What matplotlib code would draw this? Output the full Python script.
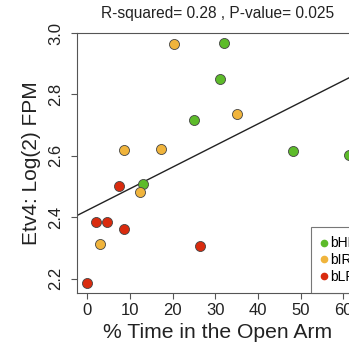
import numpy as np
import matplotlib
matplotlib.use("Agg")
import matplotlib.pyplot as plt

plt.rcParams['font.family'] = ['Liberation Sans', 'DejaVu Sans']

# % time in open arm vs Etv4 log2 FPM, by group
groups = ['bHR', 'bIR', 'bLR']
colors = ['#5DBB2A', '#F0B43C', '#D92B0E']
x_bHR = [31.9, 31.1, 25.0, 48.1, 61.2, 13.1]
y_bHR = [2.966, 2.850, 2.716, 2.614, 2.603, 2.507]
x_bIR = [20.4, 35.1, 8.5, 17.2, 12.3, 3.0]
y_bIR = [2.963, 2.736, 2.620, 2.622, 2.482, 2.311]
x_bLR = [7.3, 1.9, 4.7, 8.5, 26.5, 0.0]
y_bLR = [2.500, 2.384, 2.384, 2.361, 2.306, 2.184]

# fitted line
intercept = 2.4225
slope = 0.00704
title = "R-squared= 0.28 , P-value= 0.025"

xs = [x_bHR, x_bIR, x_bLR]
ys = [y_bHR, y_bIR, y_bLR]

fig = plt.figure(figsize=(3.49, 3.48), dpi=100)
ax = fig.add_axes([0.2206, 0.158, 0.808, 0.747])

for x, y, c, g in zip(xs, ys, colors, groups):
    ax.scatter(x, y, s=52, c=c, edgecolors='#444444', linewidths=0.6, zorder=3)
    ax.plot([], [], 'o', color=c, ms=4.5, label=g)

ax.axline((0, intercept), slope=slope, color='#222222', lw=1.0)

# R style 4% padding
allx = np.concatenate(xs)
ally = np.concatenate(ys)
dx = (allx.max() - allx.min()) * 0.04
dy = (ally.max() - ally.min()) * 0.04
ax.set_xlim(allx.min() - dx, allx.max() + dx)
ax.set_ylim(ally.min() - dy, ally.max() + dy)

ax.set_xticks([0, 10, 20, 30, 40, 50, 60])
ax.set_yticks([2.2, 2.4, 2.6, 2.8, 3.0])
ax.set_yticklabels(['2.2', '2.4', '2.6', '2.8', '3.0'], rotation=90, va='center')
ax.tick_params(length=4, width=0.8, color='#555555', labelsize=12, labelcolor='#222222')
ax.tick_params(axis='y', pad=6)
ax.tick_params(axis='x', pad=3)
for s in ax.spines.values():
    s.set_color('#555555')
    s.set_linewidth(0.8)

ax.set_xlabel('% Time in the Open Arm', fontsize=15.2, labelpad=4, color='#222222')
ax.set_ylabel('Etv4: Log(2) FPM', fontsize=15, labelpad=5, color='#222222')
ax.set_title(title, fontsize=11.2, pad=11, color='#222222')

# legend sits at the lower right, partly past the picture edge
leg = ax.legend(loc='lower left', bbox_to_anchor=(311 / 349, 55 / 348),
                bbox_transform=fig.transFigure, borderaxespad=0, fancybox=False,
                fontsize=10, handlelength=0.5, handletextpad=0.2, labelspacing=0.2,
                borderpad=0.65, frameon=True)
leg.get_frame().set_edgecolor('#555555')
leg.get_frame().set_linewidth(0.8)

fig.savefig('out.png', dpi=100)
